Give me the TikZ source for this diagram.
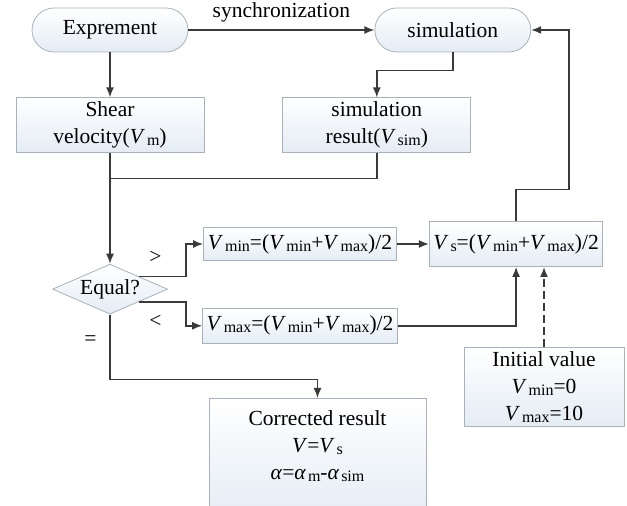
\documentclass[tikz,border=0pt]{standalone}
\usepackage{fontspec}
\setmainfont{Liberation Serif}
\usetikzlibrary{arrows.meta,calc,positioning,shapes.geometric}
\definecolor{FlowLine}{HTML}{3A3A3A}
\definecolor{FlowEdge}{HTML}{A9B2BA}
\definecolor{FlowTint}{HTML}{E4ECF4}
\newcommand{\vsub}[2]{\textit{#1}\kern1pt\raisebox{-0.2ex}{\footnotesize #2}}

\begin{document}
\begin{tikzpicture}[
      font=\rmfamily\fontsize{10.75}{13.5}\selectfont,
      box/.style={draw=FlowEdge,top color=white,bottom color=FlowTint,
        align=center,inner sep=2pt},
      term/.style={box,rounded corners=11pt,minimum width=78pt,minimum height=22pt},
      test/.style={box,diamond,aspect=2.3,inner sep=0pt,
        minimum width=57.5pt,minimum height=25pt},
      line/.style={line width=0.75pt,draw=FlowLine},
      arrow/.style={line,-{Latex[length=5pt,width=4pt]}}
    ]
      \useasboundingbox (0,0) rectangle (313.5pt,-253pt);
      \clip (0,0) rectangle (313.5pt,-253pt);
      \node[term] (exp) at (55pt,-15pt) {Exprement};
      \node[term,right=93pt of exp] (sim) {simulation};
      \node[box,minimum width=94pt,minimum height=26pt,below=22.5pt of exp] (vm)
        {Shear\\velocity(\vsub{V}{m})};
      \node[box,minimum width=94pt,minimum height=26pt,right=39pt of vm] (vsim)
        {simulation\\result(\vsub{V}{sim})};
      \node[test,below=55.5pt of vm] (eq) {Equal?};
      \node[box,minimum width=96.5pt,minimum height=16.5pt] (vmin) at (150pt,-122pt)
        {\vsub{V}{min}=(\vsub{V}{min}+\vsub{V}{max})/2};
      \node[box,minimum width=82.5pt,minimum height=22.5pt,right=16pt of vmin] (vs)
        {\vsub{V}{s}=(\vsub{V}{min}+\vsub{V}{max})/2};
      \node[box,minimum width=96.5pt,minimum height=17.5pt,below=23.5pt of vmin] (vmax)
        {\vsub{V}{max}=(\vsub{V}{min}+\vsub{V}{max})/2};
      \node[box,minimum width=80pt,minimum height=39.5pt] (init) at (272pt,-193.5pt)
        {Initial value\\\vsub{V}{min}=0\\\vsub{V}{max}=10};
      \node[box,minimum width=108.5pt,minimum height=60pt,anchor=north] (res)
        at (158.75pt,-199pt)
        {Corrected result\\\textit{V}=\vsub{V}{s}\\\textit{α}=\vsub{α}{m}-\vsub{α}{sim}\\\mbox{}};
      \coordinate[below=13pt of vm.south] (join);
      \draw[arrow] (exp) -- node[above,text=black] {synchronization} (sim);
      \draw[arrow] (exp) -- (vm);
      \draw[arrow] (sim.south) -- ++(0,-9pt) -| (vsim.north);
      \draw[line] (vsim.south) |- (join);
      \draw[arrow] (vm.south) -- (eq.north);
      \draw[arrow] (eq.north east) -- node[above=3pt,pos=0.35] {>} ++(23.5pt,0)
        |- (vmin.west);
      \draw[arrow] (eq.south east) -- node[below=3pt,pos=0.35] {<} ++(23.5pt,0)
        |- (vmax.west);
      \draw[arrow] (eq.south) -- node[left=3pt,pos=0.4] {=} ++(0,-32.5pt) -| (res.north);
      \draw[arrow] (vmin) -- (vs);
      \draw[arrow] (vmax.east) -| (vs.south);
      \draw[arrow,line width=1pt,dash pattern=on 4pt off 2pt] (init.north)
        -- (init.north |- vs.south);
      \draw[arrow] (vs.north) -- ++(0,15.75pt) -- ++(26.5pt,0) |- (sim.east);
    \end{tikzpicture}
\end{document}
